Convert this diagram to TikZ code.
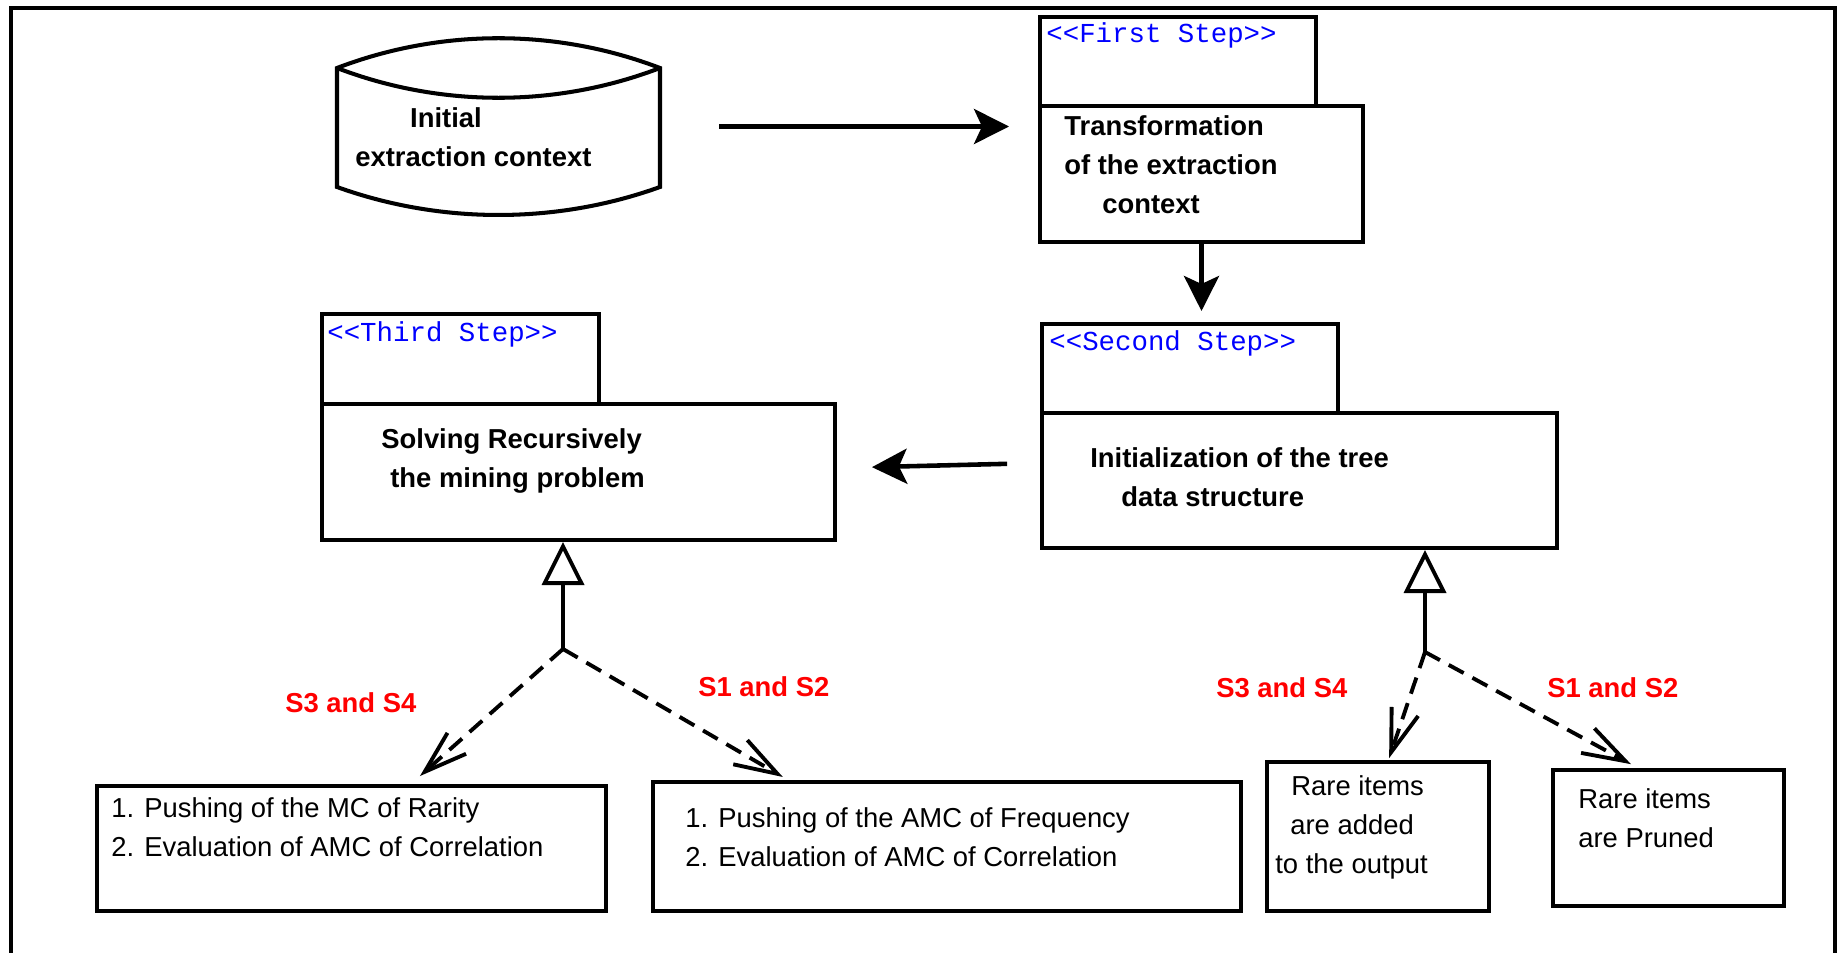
\documentclass[tikz,border=0pt]{standalone}
\usepackage{fontspec}
\setmainfont{Liberation Sans}
\setmonofont{Liberation Mono}
\usetikzlibrary{arrows.meta}
\begin{document}
\begin{tikzpicture}[x=0.02cm,y=-0.02cm,
  box/.style={draw, line width=2.3pt, rectangle, inner sep=0pt},
  shell/.style={line width=2.3pt},
  store/.style={rectangle, inner sep=0pt, minimum width=64.6mm, minimum height=35.4mm},
  txt/.style={anchor=north west, inner sep=0pt, align=left, font=\fontsize{15.6}{22.2}\selectfont},
  boldtxt/.style={txt, font=\fontsize{15.6}{22.2}\selectfont\bfseries},
  stereo/.style={anchor=base west, inner sep=0pt, text=blue, font=\fontsize{15.6}{22.2}\selectfont\ttfamily},
  case/.style={anchor=base west, inner sep=0pt, text=red, font=\fontsize{15.6}{22.2}\selectfont\bfseries},
  arr/.style={line width=2.6pt, -{Stealth[length=7mm, width=7mm, inset=1.6mm]}},
  gen/.style={line width=2.2pt, -{Triangle[open, length=8.6mm, width=8.4mm]}},
  dep/.style={line width=2.2pt, dash pattern=on 3.4mm off 2mm, -{Straight Barb[length=8.6mm, width=5.6mm]}},
  frame/.style={line width=2.6pt}]
\useasboundingbox (0,0) rectangle (1839,953);
\draw[frame] (11,953) -- (11,8) -- (1835,8) -- (1835,953);
\draw[shell] (337,68) .. controls (440.7,28.3) and (556.3,28.3) .. (660,68) -- (660,187)
  .. controls (556.3,224.3) and (440.7,224.3) .. (337,187) -- cycle;
\draw[shell] (337,68) .. controls (440.7,107.7) and (556.3,107.7) .. (660,68);
\node[store] (store) at (498.5,126.5){};
\node[boldtxt] (storetxt) at (355,107.5){\hspace*{2em}Initial\\extraction context};
\node[box, minimum width=55.2mm, minimum height=17.8mm] (tab1) at (1178,61.5){};
\node[box, minimum width=64.6mm, minimum height=27.2mm] (main1) at (1201.5,174){};
\node[stereo] (st1) at (1046,43){<<First Step>>};
\node[boldtxt] (txt1) at (1064,115.5){Transformation\\of the extraction\\\hspace*{7.6mm}context};
\node[box, minimum width=59.2mm, minimum height=17.8mm] (tab2) at (1190,368.5){};
\node[box, minimum width=103mm, minimum height=27mm] (main2) at (1299.5,480.5){};
\node[stereo] (st2) at (1049,350){<<Second Step>>};
\node[boldtxt] (txt2) at (1090,447.5){Initialization of the tree\\\hspace*{6.2mm}data structure};
\node[box, minimum width=55.4mm, minimum height=18mm] (tab3) at (460.5,359){};
\node[box, minimum width=102.6mm, minimum height=27.2mm] (main3) at (578.5,472){};
\node[stereo] (st3) at (327,341){<<Third Step>>};
\node[boldtxt] (txt3) at (381,428.5){Solving Recursively\\\hspace*{1.8mm}the mining problem};
\node[box, minimum width=101.8mm, minimum height=25mm] (boxA) at (351.5,848.5){};
\node[txt] (txtA) at (111,797.5){1. Pushing of the MC of Rarity\\2. Evaluation of AMC of Correlation};
\node[box, minimum width=117.6mm, minimum height=25.8mm] (boxB) at (947,846.5){};
\node[txt] (txtB) at (685,807.5){1. Pushing of the AMC of Frequency\\2. Evaluation of AMC of Correlation};
\node[box, minimum width=44.4mm, minimum height=29.8mm] (boxC) at (1378,836.5){};
\node[txt] (txtC) at (1275,775.5){\hspace*{3.2mm}Rare items\\\hspace*{3mm}are added\\to the output};
\node[box, minimum width=46.2mm, minimum height=27.2mm] (boxD) at (1668.5,838){};
\node[txt] (txtD) at (1578,788.5){Rare items\\are Pruned};
\node[case] (lab1) at (285,712){S3 and S4};
\node[case] (lab2) at (698,696){S1 and S2};
\node[case] (lab3) at (1216,697){S3 and S4};
\node[case] (lab4) at (1547,697){S1 and S2};
\coordinate (j3) at (563,649);
\coordinate (j2) at (1425,652);
\draw[arr, shorten <=11.8mm, shorten >=5.8mm](store.east) -- (store.east -| main1.west);
\draw[arr, shorten >=2.2mm](main1.south) -- (main1.south |- tab2.north);
\draw[arr, shorten <=6.6mm, shorten >=7mm]([yshift=3.5mm]main2.west) -- ([yshift=0.8mm]main3.east);
\draw[gen](j3) -- (j3 |- main3.south);
\draw[gen](j2) -- (j2 |- main2.south);
\draw[dep, shorten >=2.4mm](j3) -- ([xshift=11.9mm]boxA.north);
\draw[dep, shorten >=1.2mm](j3) -- ([xshift=-31.8mm]boxB.north);
\draw[dep, shorten >=0.4mm](j2) -- ([xshift=2.1mm]boxC.north);
\draw[dep, shorten >=1.6mm](j2) -- ([xshift=-6.1mm]boxD.north);
\end{tikzpicture}
\end{document}
